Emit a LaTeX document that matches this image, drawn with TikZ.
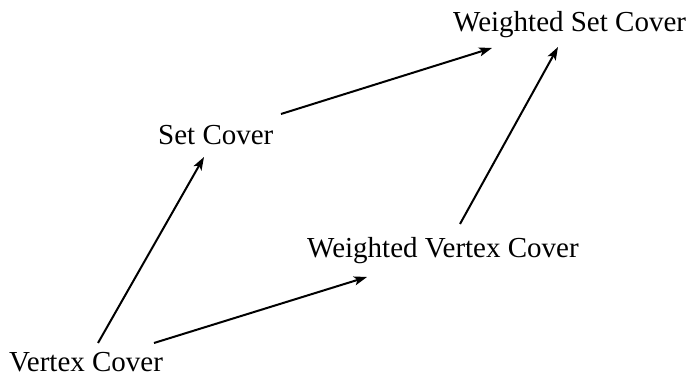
\documentclass[tikz,border=0pt]{standalone}
\usepackage{fontspec}
\setmainfont{Liberation Serif}
\usetikzlibrary{arrows.meta,calc}
\begin{document}
\begin{tikzpicture}[x=1pt,y=1pt,
  lbl/.style={anchor=base west,inner sep=0pt,font=\fontsize{29}{34}\selectfont},
  arr/.style={line width=2pt,-{Stealth[length=13pt,width=9pt,inset=3pt]}}]
\useasboundingbox (0,0) rectangle (694,377);
\node[lbl] (vc) at (9,5) {Vertex Cover};
\node[lbl] (sc) at (158,232) {Set Cover};
\node[lbl] (wvc) at (307,119) {Weighted Vertex Cover};
\node[lbl] (wsc) at (453,345) {Weighted Set Cover};
\draw[arr] ($(vc.base west)+(89,29)$) -- ($(sc.base west)+(46,-12)$);
\draw[arr] ($(vc.base west)+(145,29)$) -- ($(wvc.base west)+(60,-19)$);
\draw[arr] ($(sc.base west)+(123,31)$) -- ($(wsc.base west)+(39,-16)$);
\draw[arr] ($(wvc.base west)+(153,34)$) -- ($(wsc.base west)+(105,-15)$);
\end{tikzpicture}
\end{document}
